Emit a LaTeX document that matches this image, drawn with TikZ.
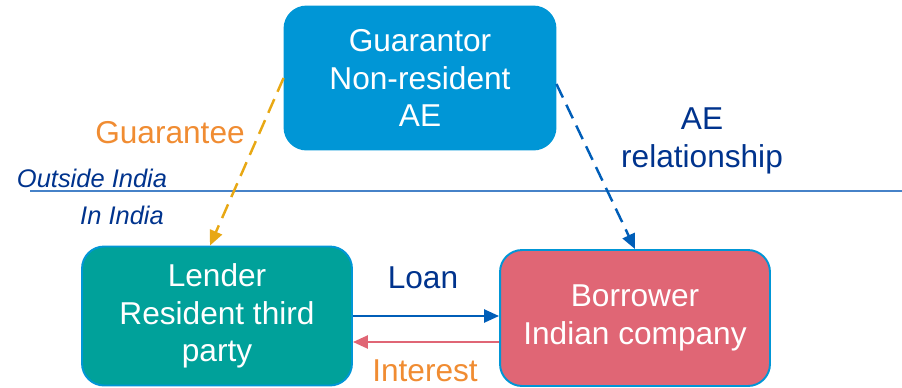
\documentclass[tikz,border=0pt]{standalone}
\usepackage{fontspec}
\setmainfont{Liberation Sans}
\usetikzlibrary{arrows.meta}
\definecolor{guarblue}{RGB}{0,150,214}
\definecolor{lendteal}{RGB}{0,161,154}
\definecolor{borrpink}{RGB}{224,102,117}
\definecolor{navytext}{RGB}{0,51,141}
\definecolor{arrowblue}{RGB}{0,94,184}
\definecolor{guarorange}{RGB}{240,140,50}
\definecolor{arrowgold}{RGB}{232,168,20}
\definecolor{lineblue}{RGB}{70,130,200}
\tikzset{
    party/.style={rounded corners=0.44cm, align=center, text=white, font=\fontsize{18}{21.5}\selectfont,
        line width=1.1pt, inner sep=0pt},
    lbl/.style={align=center, font=\fontsize{18}{21.5}\selectfont},
    side/.style={text=navytext, font=\fontsize{14.5}{16}\selectfont\itshape},
    tip/.style={-{Triangle[length=0.3cm,width=0.26cm]}, line width=1.4pt},
    dashy/.style={dash pattern=on 0.3cm off 0.16cm}
}
\begin{document}
\begin{tikzpicture}[x=0.02cm, y=-0.02cm]
    \useasboundingbox (0,0) rectangle (902,387);

    % border between the two sides
    \draw[lineblue, line width=0.9pt] (30,191) -- (902,191);
    \node[side] (outside) at (92,178) {Outside India};
    \node[side] (inindia) at (122,215) {In India};

    \node[party, fill=guarblue, draw=guarblue, minimum width=5.42cm, minimum height=2.86cm] (guar) at (420,78)
        {Guarantor\\Non-resident\\AE};
    \node[party, fill=lendteal, draw=guarblue, minimum width=5.4cm, minimum height=2.78cm] (lender) at (217,316)
        {Lender\\Resident third\\party};
    \node[party, fill=borrpink, draw=guarblue, minimum width=5.4cm, minimum height=2.72cm] (borr) at (635,318)
        {Borrower\\Indian company};

    \draw[tip, dashy, arrowgold] (guar.west) -- ([xshift=-0.14cm]lender.north);
    \draw[tip, dashy, arrowblue] ([yshift=-0.12cm]guar.east) -- (borr.north);
    \draw[tip, arrowblue] (lender.east) -- (lender.east -| borr.west);
    \draw[tip, borrpink] ([yshift=-0.48cm]borr.west) -- ([yshift=-0.48cm]borr.west -| lender.east);

    \node[lbl, text=guarorange] (guarantee) at (170,133) {Guarantee};
    \node[lbl, text=navytext] (aerel) at (702,141) {AE\\relationship};
    \node[lbl, text=navytext] (loan) at (423,278) {Loan};
    \node[lbl, text=guarorange] (interest) at (425,371) {Interest};

\end{tikzpicture}
\end{document}
